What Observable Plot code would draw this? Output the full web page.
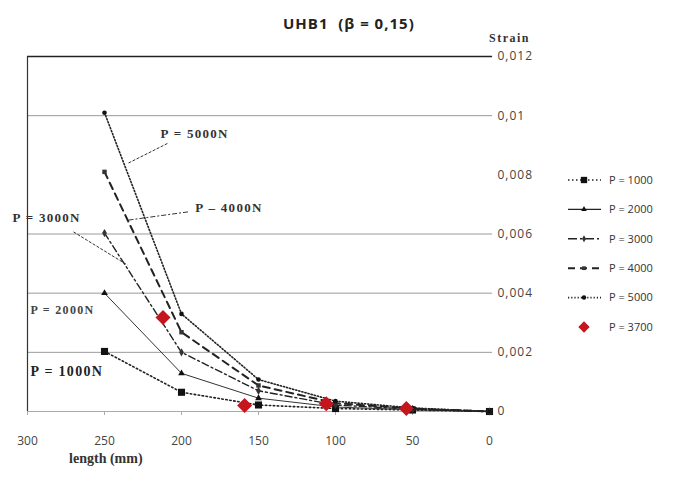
<!DOCTYPE html>
<html><head><meta charset="utf-8">
<script src="https://cdn.jsdelivr.net/npm/d3@7"></script>
<script src="https://cdn.jsdelivr.net/npm/@observablehq/plot@0.6"></script>
<style>
body{margin:0;background:#fff;}
#wrap{position:relative;width:687px;height:482px;overflow:hidden;background:#fff;}
#title{position:absolute;left:283px;top:13px;font:bold 15px "Open Sans",sans-serif;letter-spacing:1px;color:#222;white-space:pre;}
#strain{position:absolute;left:489px;top:31px;font:bold 12px "Liberation Serif",serif;letter-spacing:1.5px;color:#333;line-height:14px;}
#legend{position:absolute;left:0;top:0;}
</style></head><body>
<div id="wrap"><div id="title">UHB1  (β = 0,15)</div><div id="strain">Strain</div></div>
<script>
const lengths = [250, 200, 150, 100, 50, 0];
const strain1000 = [0.00203, 0.00065, 0.00022, 0.00010, 0.00005, 0];
const strain2000 = [0.00400, 0.00129, 0.00045, 0.00015, 0.00006, 0];
const strain3000 = [0.00603, 0.00200, 0.00070, 0.00022, 0.00008, 0];
const strain4000 = [0.00810, 0.00268, 0.00088, 0.00028, 0.00010, 0];
const strain5000 = [0.01010, 0.00330, 0.00108, 0.00035, 0.00012, 0];
const lengths3700 = [212, 159, 106, 54];
const strain3700 = [0.00318, 0.00020, 0.00026, 0.00010];
const seriesNames = ["P = 1000", "P = 2000", "P = 3000", "P = 4000", "P = 5000", "P = 3700"];
const xTicks = [300, 250, 200, 150, 100, 50, 0];
const yTicks = [0, 0.002, 0.004, 0.006, 0.008, 0.01, 0.012];
const gridTicks = [0.002, 0.004, 0.006, 0.01];

const toRows = (xs, ys) => xs.map((x, i) => ({length: x, strain: ys[i]}));
const r1000 = toRows(lengths, strain1000);
const r2000 = toRows(lengths, strain2000);
const r3000 = toRows(lengths, strain3000);
const r4000 = toRows(lengths, strain4000);
const r5000 = toRows(lengths, strain5000);
const r3700 = toRows(lengths3700, strain3700);

const fmt = d => String(d).replace(".", ",");
const serif = "Liberation Serif, serif";

const chart = Plot.plot({
  width: 687, height: 482,
  marginLeft: 27, marginRight: 198, marginTop: 56, marginBottom: 71,
  style: {fontFamily: "Open Sans, sans-serif", background: "transparent"},
  x: {domain: [300, 0]},
  y: {domain: [0, 0.012]},
  marks: [
    Plot.ruleY(gridTicks, {x1: 300, x2: -2, stroke: "#9a9a9a", strokeWidth: 1}),
    Plot.ruleY([0.012], {x1: 300, x2: -2, stroke: "#222", strokeWidth: 1.6}),
    Plot.ruleY([0], {x1: 300, x2: 0, stroke: "#aaa", strokeWidth: 1}),
    Plot.ruleX([300], {y1: 0, y2: 0.012, stroke: "#333", strokeWidth: 1.2}),
    Plot.axisX({ticks: xTicks, tickSize: 4, tickPadding: 21, stroke: "#aaa", fill: "#444", fontSize: 12, label: null}),
    Plot.axisY({anchor: "right", ticks: yTicks, tickSize: 0, tickPadding: 8, tickFormat: fmt, fill: "#444", fontSize: 12, textAnchor: "start", label: null}),
    Plot.text(["length (mm)"], {x: 273, y: 0, dy: 51, textAnchor: "start", text: d => d, fontFamily: serif, fontWeight: "bold", fontSize: 14, fill: "#333", frameAnchor: "bottom"}),
    // series
    Plot.line(r1000, {x: "length", y: "strain", stroke: "#222", strokeWidth: 1.6, strokeDasharray: "1.5,2.5"}),
    Plot.dot(r1000, {x: "length", y: "strain", symbol: "square", r: 4, fill: "#111"}),
    Plot.line(r2000, {x: "length", y: "strain", stroke: "#333", strokeWidth: 1}),
    Plot.dot(r2000, {x: "length", y: "strain", symbol: "triangle", r: 2.5, fill: "#111"}),
    Plot.line(r3000, {x: "length", y: "strain", stroke: "#222", strokeWidth: 1.4, strokeDasharray: "7,3,2,3"}),
    Plot.dot(r3000, {x: "length", y: "strain", symbol: "diamond", r: 2.5, fill: "#333"}),
    Plot.line(r4000, {x: "length", y: "strain", stroke: "#222", strokeWidth: 2, strokeDasharray: "7,5"}),
    Plot.dot(r4000, {x: "length", y: "strain", symbol: "square", r: 2.5, fill: "#333"}),
    Plot.line(r5000, {x: "length", y: "strain", stroke: "#222", strokeWidth: 1.6, strokeDasharray: "1.2,2"}),
    Plot.dot(r5000, {x: "length", y: "strain", symbol: "circle", r: 2.3, fill: "#111"}),
    Plot.dot(r3700, {x: "length", y: "strain", symbol: "square", rotate: 45, r: 6, fill: "#c4161c"}),
    // annotations
    Plot.link([0], {x1: 234.4, y1: 0.0084, x2: 208.4, y2: 0.00908, stroke: "#333", strokeDasharray: "3,1.5"}),
    Plot.text(["P = 5000N"], {x: 213.6, y: 0.0094, text: d => d, textAnchor: "start", fontFamily: serif, fontWeight: "bold", fontSize: 13, fill: "#333"}),
    Plot.link([0], {x1: 234.4, y1: 0.00647, x2: 195.5, y2: 0.00675, stroke: "#333", strokeDasharray: "5,2,2,2"}),
    Plot.text(["P – 4000N"], {x: 191, y: 0.00688, text: d => d, textAnchor: "start", fontFamily: serif, fontWeight: "bold", fontSize: 13, fill: "#333"}),
    Plot.link([0], {x1: 270.1, y1: 0.00607, x2: 235.1, y2: 0.00495, stroke: "#333", strokeDasharray: "3,1.5"}),
    Plot.text(["P = 3000N"], {x: 309.7, y: 0.00654, text: d => d, textAnchor: "start", fontFamily: serif, fontWeight: "bold", fontSize: 13, fill: "#333"}),
    Plot.text(["P = 2000N"], {x: 298, y: 0.00342, text: d => d, textAnchor: "start", fontFamily: serif, fontWeight: "bold", fontSize: 12, fill: "#444"}),
    Plot.text(["P = 1000N"], {x: 298, y: 0.00136, text: d => d, textAnchor: "start", fontFamily: serif, fontWeight: "bold", fontSize: 14, fill: "#222"})
  ]
});
d3.select(chart).selectAll("text").filter(function() { return /N$/.test(this.textContent); }).attr("letter-spacing", 1.3);
d3.select(chart).selectAll("text").filter(function() { return /^0,/.test(this.textContent); }).attr("letter-spacing", 1);
const wrap = document.getElementById("wrap");
wrap.insertBefore(chart, wrap.firstChild);
chart.style.position = "absolute"; chart.style.left = "0"; chart.style.top = "0";

// legend
const legendStyles = [
  {dash: "1.5,2.5", w: 1.6, sym: d3.symbolSquare, size: 40, fill: "#111"},
  {dash: null, w: 1.4, sym: d3.symbolTriangle, size: 14, fill: "#111"},
  {dash: "9,3,2,3", w: 1.4, sym: d3.symbolDiamond, size: 14, fill: "#333"},
  {dash: "7,5", w: 2, sym: d3.symbolSquare, size: 14, fill: "#333"},
  {dash: "1.2,2", w: 1.6, sym: d3.symbolCircle, size: 16, fill: "#111"},
  {dash: null, w: 0, sym: d3.symbolSquare, size: 64, fill: "#c4161c", noLine: true, rot: 45}
];
const lg = d3.select(wrap).append("svg").attr("id", "legend").attr("width", 687).attr("height", 482);
seriesNames.forEach((name, i) => {
  const st = legendStyles[i];
  const y = 180 + i * 29.4;
  if (!st.noLine) {
    const ln = lg.append("line").attr("x1", 568).attr("x2", 601).attr("y1", y).attr("y2", y)
      .attr("stroke", "#222").attr("stroke-width", st.w);
    if (st.dash) ln.attr("stroke-dasharray", st.dash);
  }
  lg.append("path").attr("d", d3.symbol(st.sym, st.size)()).attr("transform", `translate(584,${y}) rotate(${st.rot || 0})`).attr("fill", st.fill);
  lg.append("text").attr("x", 609).attr("y", y).attr("dy", "0.35em").attr("font-family", "Open Sans, sans-serif")
    .attr("font-size", 11).attr("fill", "#333").text(name);
});
</script>
</body></html>
